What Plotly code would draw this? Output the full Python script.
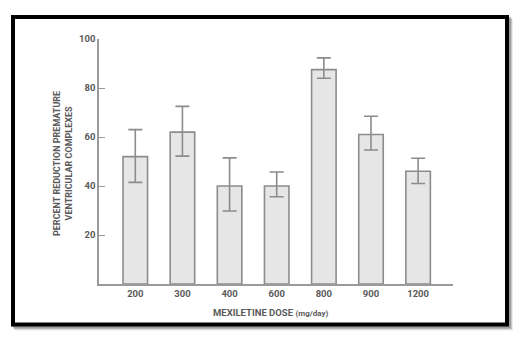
import plotly.graph_objects as go

# Mexiletine dose groups and mean percent reduction of PVCs (with error bars)
doses = ["200", "300", "400", "600", "800", "900", "1200"]
reduction = [52, 62, 40, 40, 87.5, 61, 46]
err_plus = [11, 10.5, 11.5, 5.7, 4.8, 7.5, 5.3]
err_minus = [10.5, 9.8, 10.2, 4.4, 3.5, 6.3, 5.0]
y_ticks = [20, 40, 60, 80, 100]

W, H = 525, 337
L, R, T, B = 99, 72, 39, 53
pw, ph = W - L - R, H - T - B

TEXT = "#5a5a5a"
GREY = "#8c8c8c"
FONT = "Roboto, Liberation Sans, sans-serif"

xpos = list(range(len(doses)))

fig = go.Figure(
    go.Bar(
        x=xpos,
        y=reduction,
        width=0.52,
        marker=dict(color="#e6e6e6", line=dict(color=GREY, width=1.6)),
        error_y=dict(
            type="data",
            symmetric=False,
            array=err_plus,
            arrayminus=err_minus,
            color=GREY,
            thickness=1.6,
            width=7,
        ),
    )
)


def px_x(p):
    return (p - L) / pw


def px_y(p):
    return (H - B - p) / ph


shapes = []
# soft drop shadow to the right and below the frame
for off, col in [(4, "rgba(0,0,0,0.08)"), (3, "rgba(0,0,0,0.14)"), (2, "rgba(0,0,0,0.22)")]:
    shapes.append(dict(
        type="rect", xref="paper", yref="paper", layer="below",
        x0=px_x(13 + off), x1=px_x(507 + off),
        y0=px_y(17 + off), y1=px_y(324.5 + off),
        line=dict(color=col, width=4), fillcolor="rgba(0,0,0,0)",
    ))
# black frame
shapes.append(dict(
    type="rect", xref="paper", yref="paper", layer="below",
    x0=px_x(13), x1=px_x(507), y0=px_y(17), y1=px_y(324.5),
    line=dict(color="black", width=4), fillcolor="white",
))

tick_font = dict(family=FONT, size=9.5, color=TEXT, weight="bold")

fig.update_layout(
    width=W,
    height=H,
    margin=dict(l=L, r=R, t=T, b=B),
    paper_bgcolor="white",
    plot_bgcolor="rgba(0,0,0,0)",
    showlegend=False,
    font=dict(family=FONT, color=TEXT, size=10),
    shapes=shapes,
    xaxis=dict(
        range=[-0.77, 6.74],
        tickmode="array",
        tickvals=xpos,
        ticktext=doses,
        showline=True,
        linecolor="#9a9a9a",
        linewidth=1.5,
        ticks="",
        showgrid=False,
        zeroline=False,
        tickfont=tick_font,
        ticklabelstandoff=0,
    ),
    yaxis=dict(
        range=[0, 100],
        tickmode="array",
        tickvals=y_ticks,
        showline=True,
        linecolor="#9a9a9a",
        linewidth=1.5,
        ticks="inside",
        ticklen=6,
        tickwidth=1.2,
        tickcolor="#9a9a9a",
        showgrid=False,
        zeroline=False,
        tickfont=tick_font,
        ticklabelstandoff=0,
    ),
    annotations=[
        dict(
            xref="paper", yref="paper",
            x=px_x(270), y=px_y(312),
            text="<b>MEXILETINE DOSE</b> <span style='font-size:8px'><b>(mg/day)</b></span>",
            showarrow=False, xanchor="center", yanchor="middle",
            font=dict(family=FONT, size=9.5, color=TEXT),
        ),
        dict(
            xref="paper", yref="paper",
            x=px_x(63), y=px_y(164),
            text="<b>PERCENT REDUCTION PREMATURE<br>VENTRICULAR COMPLEXES</b>",
            textangle=-90, showarrow=False,
            xanchor="center", yanchor="middle",
            font=dict(family=FONT, size=9, color=TEXT),
        ),
    ],
)

fig.write_html("out.html")
